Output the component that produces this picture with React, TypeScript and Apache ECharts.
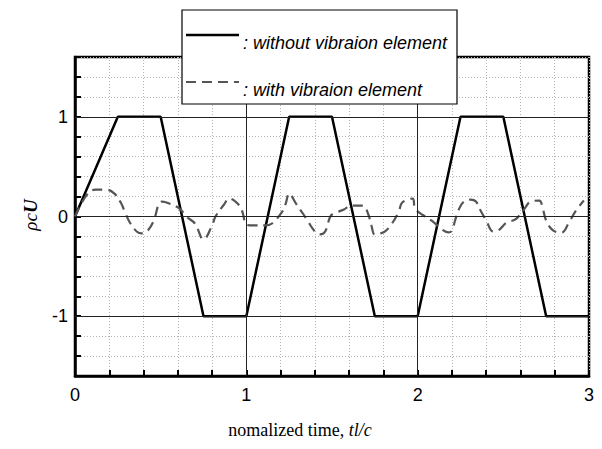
import React, { useEffect, useRef } from "react";
import * as echarts from "echarts";

const solidT = [0, 0.25, 0.5, 0.75, 1, 1.25, 1.5, 1.75, 2, 2.25, 2.5, 2.75, 3];
const solidV = [0, 1, 1, -1, -1, 1, 1, -1, -1, 1, 1, -1, -1];

const dashT = [
  0, 0.07, 0.12, 0.18, 0.23, 0.27, 0.29, 0.32, 0.36, 0.39, 0.42, 0.46, 0.49, 0.51, 0.55, 0.61, 0.65, 0.7, 0.75,
  0.8, 0.82, 0.87, 0.9, 0.96, 0.98, 1.0, 1.04, 1.11, 1.15, 1.21, 1.23, 1.25, 1.29, 1.33, 1.36, 1.4, 1.43, 1.46,
  1.49, 1.51, 1.57, 1.61, 1.68, 1.71, 1.73, 1.75, 1.78, 1.81, 1.85, 1.89, 1.91, 1.97, 1.985, 2.03, 2.08, 2.15,
  2.18, 2.2, 2.22, 2.24, 2.27, 2.31, 2.34, 2.37, 2.4, 2.44, 2.47, 2.52, 2.57, 2.62, 2.66, 2.71, 2.73, 2.75, 2.79,
  2.84, 2.88, 2.92, 2.97,
];
const dashV = [
  0, 0.22, 0.27, 0.27, 0.23, 0.13, 0.05, -0.06, -0.15, -0.17, -0.15, -0.04, 0.13, 0.15, 0.13, 0.08, 0, -0.07, -0.23,
  -0.09, 0, 0.12, 0.18, 0.11, 0.03, -0.08, -0.09, -0.09, -0.07, 0.05, 0.13, 0.23, 0.13, 0.03, -0.05, -0.15, -0.18, -0.15,
  0, 0.03, 0.07, 0.11, 0.11, 0.03, -0.09, -0.18, -0.17, -0.15, -0.07, 0.05, 0.14, 0.18, 0.08, 0.015, -0.04, -0.14,
  -0.16, -0.14, -0.03, 0.07, 0.15, 0.17, 0.15, 0.05, -0.04, -0.15, -0.14, -0.06, -0.03, 0.07, 0.15, 0.16, 0.08, -0.04, -0.14,
  -0.16, -0.07, 0.05, 0.16,
];

const xTickLabels = ["0", "1", "2", "3"];
const yTickLabels = ["-1", "0", "1"];
const legendNames = [": without vibraion element", ": with vibraion element"];

const isInt = (v: number) => Math.abs(v - Math.round(v)) < 1e-6;

export default function App() {
  const ref = useRef<HTMLDivElement>(null);
  useEffect(() => {
    if (!ref.current) return;
    const chart = echarts.init(ref.current, null, { renderer: "svg" });
    const sans = "Liberation Sans, Arial, sans-serif";
    const serif = "Liberation Serif, Times New Roman, serif";
    chart.setOption({
      animation: false,
      backgroundColor: "#fff",
      grid: {
        left: 75,
        right: 13,
        top: 57,
        bottom: 73,
        show: true,
        borderColor: "#000",
        borderWidth: 2.5,
        backgroundColor: "transparent",
      },
      xAxis: {
        type: "value",
        min: 0,
        max: 3,
        interval: 0.2,
        axisLine: { show: true, onZero: false, lineStyle: { color: "#000", width: 2.5 } },
        axisTick: { show: true, inside: true, length: 6, lineStyle: { color: "#000", width: 2 } },
        axisLabel: {
          color: "#000",
          fontFamily: sans,
          fontSize: 18,
          margin: 10,
          formatter: (v: number) => (isInt(v) && xTickLabels.includes(String(Math.round(v))) ? String(Math.round(v)) : ""),
        },
        splitLine: { show: true, lineStyle: { color: "#b5b5b5", type: [1, 2], width: 1 } },
      },
      yAxis: {
        type: "value",
        min: -1.6,
        max: 1.6,
        interval: 0.2,
        axisLine: { show: true, onZero: false, lineStyle: { color: "#000", width: 2.5 } },
        axisTick: { show: true, inside: true, length: 6, lineStyle: { color: "#000", width: 2 } },
        axisLabel: {
          color: "#000",
          fontFamily: sans,
          fontSize: 18,
          margin: 7,
          formatter: (v: number) => (isInt(v) && yTickLabels.includes(String(Math.round(v))) ? String(Math.round(v)) : ""),
        },
        splitLine: { show: true, lineStyle: { color: "#b5b5b5", type: [1, 2], width: 1 } },
      },
      series: [
        {
          type: "line",
          name: "grid",
          data: [],
          z: 1,
          silent: true,
          markLine: {
            silent: true,
            symbol: "none",
            label: { show: false },
            lineStyle: { color: "#222", width: 1, type: "solid" },
            data: [{ yAxis: -1 }, { yAxis: 0 }, { yAxis: 1 }, { xAxis: 1 }, { xAxis: 2 }],
          },
        },
        {
          type: "line",
          name: legendNames[0],
          data: solidT.map((t, i) => [t, solidV[i]]),
          showSymbol: false,
          z: 3,
          lineStyle: { color: "#000", width: 2.5 },
        },
        {
          type: "line",
          name: legendNames[1],
          data: dashT.map((t, i) => [t, dashV[i]]),
          showSymbol: false,
          smooth: 0.4,
          z: 4,
          lineStyle: { color: "#555", width: 2.2, type: [10, 6] },
        },
      ],
      graphic: [
        {
          type: "rect",
          z: 100,
          shape: { x: 182, y: 10, width: 275, height: 94 },
          style: { fill: "#fff", stroke: "#000", lineWidth: 1.2 },
        },
        {
          type: "line",
          z: 101,
          shape: { x1: 186, y1: 35, x2: 239, y2: 35 },
          style: { stroke: "#000", lineWidth: 2.5 },
        },
        {
          type: "line",
          z: 101,
          shape: { x1: 186, y1: 82, x2: 239, y2: 82 },
          style: { stroke: "#555", lineWidth: 2.2, lineDash: [10, 6] },
        },
        {
          type: "text",
          z: 101,
          x: 243,
          y: 43,
          style: {
            text: legendNames[0],
            fill: "#000",
            font: "italic 18px " + sans,
            textAlign: "left",
            textVerticalAlign: "middle",
          },
        },
        {
          type: "text",
          z: 101,
          x: 243,
          y: 90,
          style: {
            text: legendNames[1],
            fill: "#000",
            font: "italic 18px " + sans,
            textAlign: "left",
            textVerticalAlign: "middle",
          },
        },
        {
          type: "text",
          z: 101,
          x: 300,
          y: 430,
          style: {
            text: "{n|nomalized time, }{i|tl/c}",
            textAlign: "center",
            textVerticalAlign: "middle",
            rich: {
              n: { fontFamily: serif, fontSize: 18, fill: "#000", color: "#000" },
              i: { fontFamily: serif, fontSize: 18, fontStyle: "italic", fill: "#000", color: "#000" },
            },
          },
        },
        {
          type: "text",
          z: 101,
          x: 30,
          y: 215,
          rotation: Math.PI / 2,
          style: {
            text: "{a|ρc}{b|U}",
            textAlign: "center",
            textVerticalAlign: "middle",
            rich: {
              a: { fontFamily: serif, fontSize: 19, fontStyle: "italic", fill: "#000", color: "#000" },
              b: { fontFamily: serif, fontSize: 19, fontStyle: "italic", fontWeight: "bold", fill: "#000", color: "#000" },
            },
          },
        },
      ],
    });
    return () => chart.dispose();
  }, []);
  return (
    <div
      ref={ref}
      style={{ position: "fixed", left: 0, top: 0, width: 602, height: 449, background: "#fff" }}
    />
  );
}
